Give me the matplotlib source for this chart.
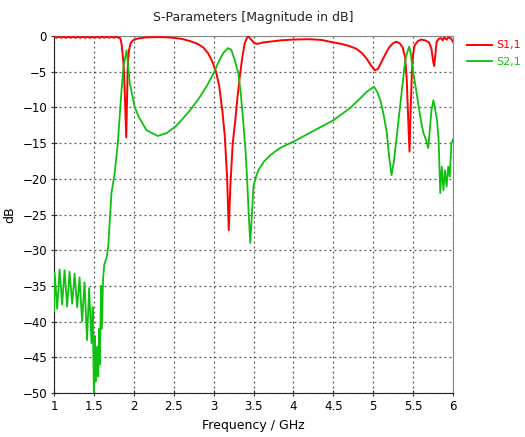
import matplotlib
matplotlib.use("Agg")
import matplotlib.pyplot as plt

s11_f = [1.00, 1.03, 1.06, 1.09, 1.12, 1.15, 1.18, 1.21, 1.24, 1.27, 1.30, 1.33, 1.36, 1.39,
         1.42, 1.45, 1.48, 1.51, 1.54, 1.57, 1.60, 1.63, 1.66, 1.69, 1.72, 1.75, 1.78, 1.81,
         1.83, 1.845, 1.86, 1.875, 1.89, 1.905, 1.915, 1.925, 1.94, 1.96, 1.99, 2.05, 2.15,
         2.3, 2.45, 2.6, 2.7, 2.8, 2.87, 2.93, 2.98, 3.03, 3.07, 3.11, 3.14, 3.17, 3.19, 3.21,
         3.24, 3.27, 3.30, 3.33, 3.36, 3.39, 3.42, 3.44, 3.47, 3.51, 3.55, 3.62, 3.7, 3.85,
         4.0, 4.2, 4.35, 4.5, 4.6, 4.7, 4.79, 4.86, 4.92, 4.97, 5.02, 5.06, 5.1, 5.15, 5.2,
         5.25, 5.29, 5.33, 5.37, 5.40, 5.42, 5.44, 5.455, 5.47, 5.485, 5.50, 5.52, 5.56, 5.6,
         5.65, 5.7, 5.73, 5.75, 5.765, 5.78, 5.795, 5.82, 5.85, 5.87, 5.89, 5.92, 5.94, 5.97, 6.0]
s11_db = [-0.1, -0.25, -0.1, -0.25, -0.1, -0.25, -0.1, -0.25, -0.1, -0.25, -0.1, -0.25, -0.1, -0.25,
          -0.1, -0.25, -0.1, -0.25, -0.1, -0.25, -0.1, -0.25, -0.1, -0.25, -0.1, -0.25, -0.1, -0.25,
          -0.3, -1.0, -2.5, -4.5, -9.0, -14.2, -9.0, -4.0, -2.0, -1.0, -0.6, -0.35, -0.2,
          -0.15, -0.2, -0.4, -0.7, -1.1, -1.6, -2.4, -3.5, -5.0, -7.0, -10.5, -14.0, -20.0, -27.2, -21.0,
          -15.0, -12.0, -8.5, -5.5, -3.0, -1.0, -0.2, -0.15, -0.5, -1.0, -1.1, -0.9, -0.8, -0.6,
          -0.5, -0.45, -0.55, -0.9, -1.1, -1.4, -1.8, -2.4, -3.2, -4.1, -4.8, -4.6, -3.7, -2.6, -1.6,
          -1.0, -0.8, -1.0, -1.6, -3.0, -6.0, -12.0, -16.2, -10.0, -5.0, -2.5, -1.3, -0.7, -0.5,
          -0.6, -0.9, -1.8, -3.5, -4.2, -2.5, -0.8, -0.4, -0.3, -0.6, -0.2, -0.5, -0.2, -0.3, -0.8]

s21_f = [1.000, 1.008, 1.040, 1.070, 1.102, 1.132, 1.165, 1.195, 1.228, 1.258, 1.290, 1.320,
         1.352, 1.382, 1.414, 1.440, 1.470, 1.485, 1.500, 1.512,
         1.525, 1.540, 1.555, 1.565, 1.575, 1.59, 1.60, 1.615, 1.63, 1.66, 1.68, 1.72, 1.76,
         1.80, 1.84, 1.87, 1.91, 1.95, 2.01, 2.06, 2.16, 2.3, 2.41, 2.52, 2.62, 2.72, 2.83,
         2.92, 3.0, 3.06, 3.12, 3.18, 3.22, 3.26, 3.31, 3.34, 3.37, 3.40, 3.42, 3.44, 3.46,
         3.48, 3.50, 3.53, 3.56, 3.63, 3.71, 3.83, 3.96, 4.0, 4.25, 4.5, 4.71, 4.85, 4.92,
         5.01, 5.05, 5.09, 5.13, 5.17, 5.20, 5.23, 5.26, 5.29, 5.33, 5.36, 5.39, 5.41, 5.45,
         5.47, 5.49, 5.53, 5.57, 5.60, 5.63, 5.66, 5.69, 5.71, 5.73, 5.755, 5.78, 5.80, 5.82,
         5.84, 5.86, 5.88, 5.90, 5.92, 5.94, 5.96, 5.98, 6.0]
s21_db = [-38.5, -33.2, -38.2, -32.7, -37.6, -32.8, -37.9, -33.0, -37.5, -33.3, -38.0, -33.8,
          -40.0, -34.5, -42.6, -35.3, -43.0, -38.0, -50.0, -42.0,
          -48.4, -43.5, -47.7, -41.0, -46.0, -35.0, -41.0, -34.0, -32.0, -31.0, -29.5, -22.0, -19.2,
          -15.0, -8.5, -4.3, -2.0, -6.6, -9.9, -11.3, -13.2, -14.0, -13.6, -12.7, -11.5, -10.2, -8.5,
          -6.9, -5.2, -3.7, -2.4, -1.7, -1.9, -3.2, -5.2, -8.0, -11.8, -16.0, -20.0, -25.0, -29.0,
          -25.0, -21.0, -19.8, -18.8, -17.6, -16.7, -15.7, -15.0, -14.8, -13.3, -11.8, -10.1, -8.6, -7.8,
          -7.1, -7.8, -9.0, -11.0, -13.5, -17.0, -19.5, -17.5, -14.6, -10.5, -7.6, -4.5, -2.9, -1.5,
          -2.4, -4.3, -7.0, -9.9, -12.0, -13.6, -14.5, -15.7, -13.0, -10.4, -9.0, -10.5, -11.8, -14.6,
          -22.0, -18.3, -21.6, -18.8, -21.1, -18.3, -19.7, -15.0, -14.5]

x_ticks = [1, 1.5, 2, 2.5, 3, 3.5, 4, 4.5, 5, 5.5, 6]
x_labels = ["1", "1.5", "2", "2.5", "3", "3.5", "4", "4.5", "5", "5.5", "6"]
y_ticks = [0, -5, -10, -15, -20, -25, -30, -35, -40, -45, -50]

fig = plt.figure(figsize=(5.25, 4.37), dpi=100)
ax = fig.add_axes([54/525, 1-393/437, 399/525, 357/437])

red = "#ff0000"
green = "#10c010"
ax.plot(s11_f, s11_db, color=red, lw=1.4, label="S1,1", zorder=3)
ax.plot(s21_f, s21_db, color=green, lw=1.3, label="S2,1", zorder=3)

ax.set_xlim(1, 6)
ax.set_ylim(-50, 0)
ax.set_xticks(x_ticks)
ax.set_xticklabels(x_labels)
ax.set_yticks(y_ticks)
ax.tick_params(labelsize=8.5, direction="inout", length=4, color="#333333", pad=3)
ax.grid(True, linestyle=(0, (1.5, 2.5)), color="#555555", lw=0.9)
for s in ax.spines.values():
    s.set_color("#888888")
ax.spines["left"].set_color("#222222")
ax.spines["bottom"].set_color("#222222")

ax.set_title("S-Parameters [Magnitude in dB]", fontsize=9, pad=11, color="#222222")
ax.set_xlabel("Frequency / GHz", fontsize=9, labelpad=4)
ax.set_ylabel("dB", fontsize=9, labelpad=4)

leg = ax.legend(loc="upper left", bbox_to_anchor=(1.025, 1.0), frameon=False,
                fontsize=8, handlelength=2.2, labelcolor="linecolor", borderaxespad=0,
                handletextpad=0.4, labelspacing=0.6)

fig.savefig("out.png", dpi=100)
